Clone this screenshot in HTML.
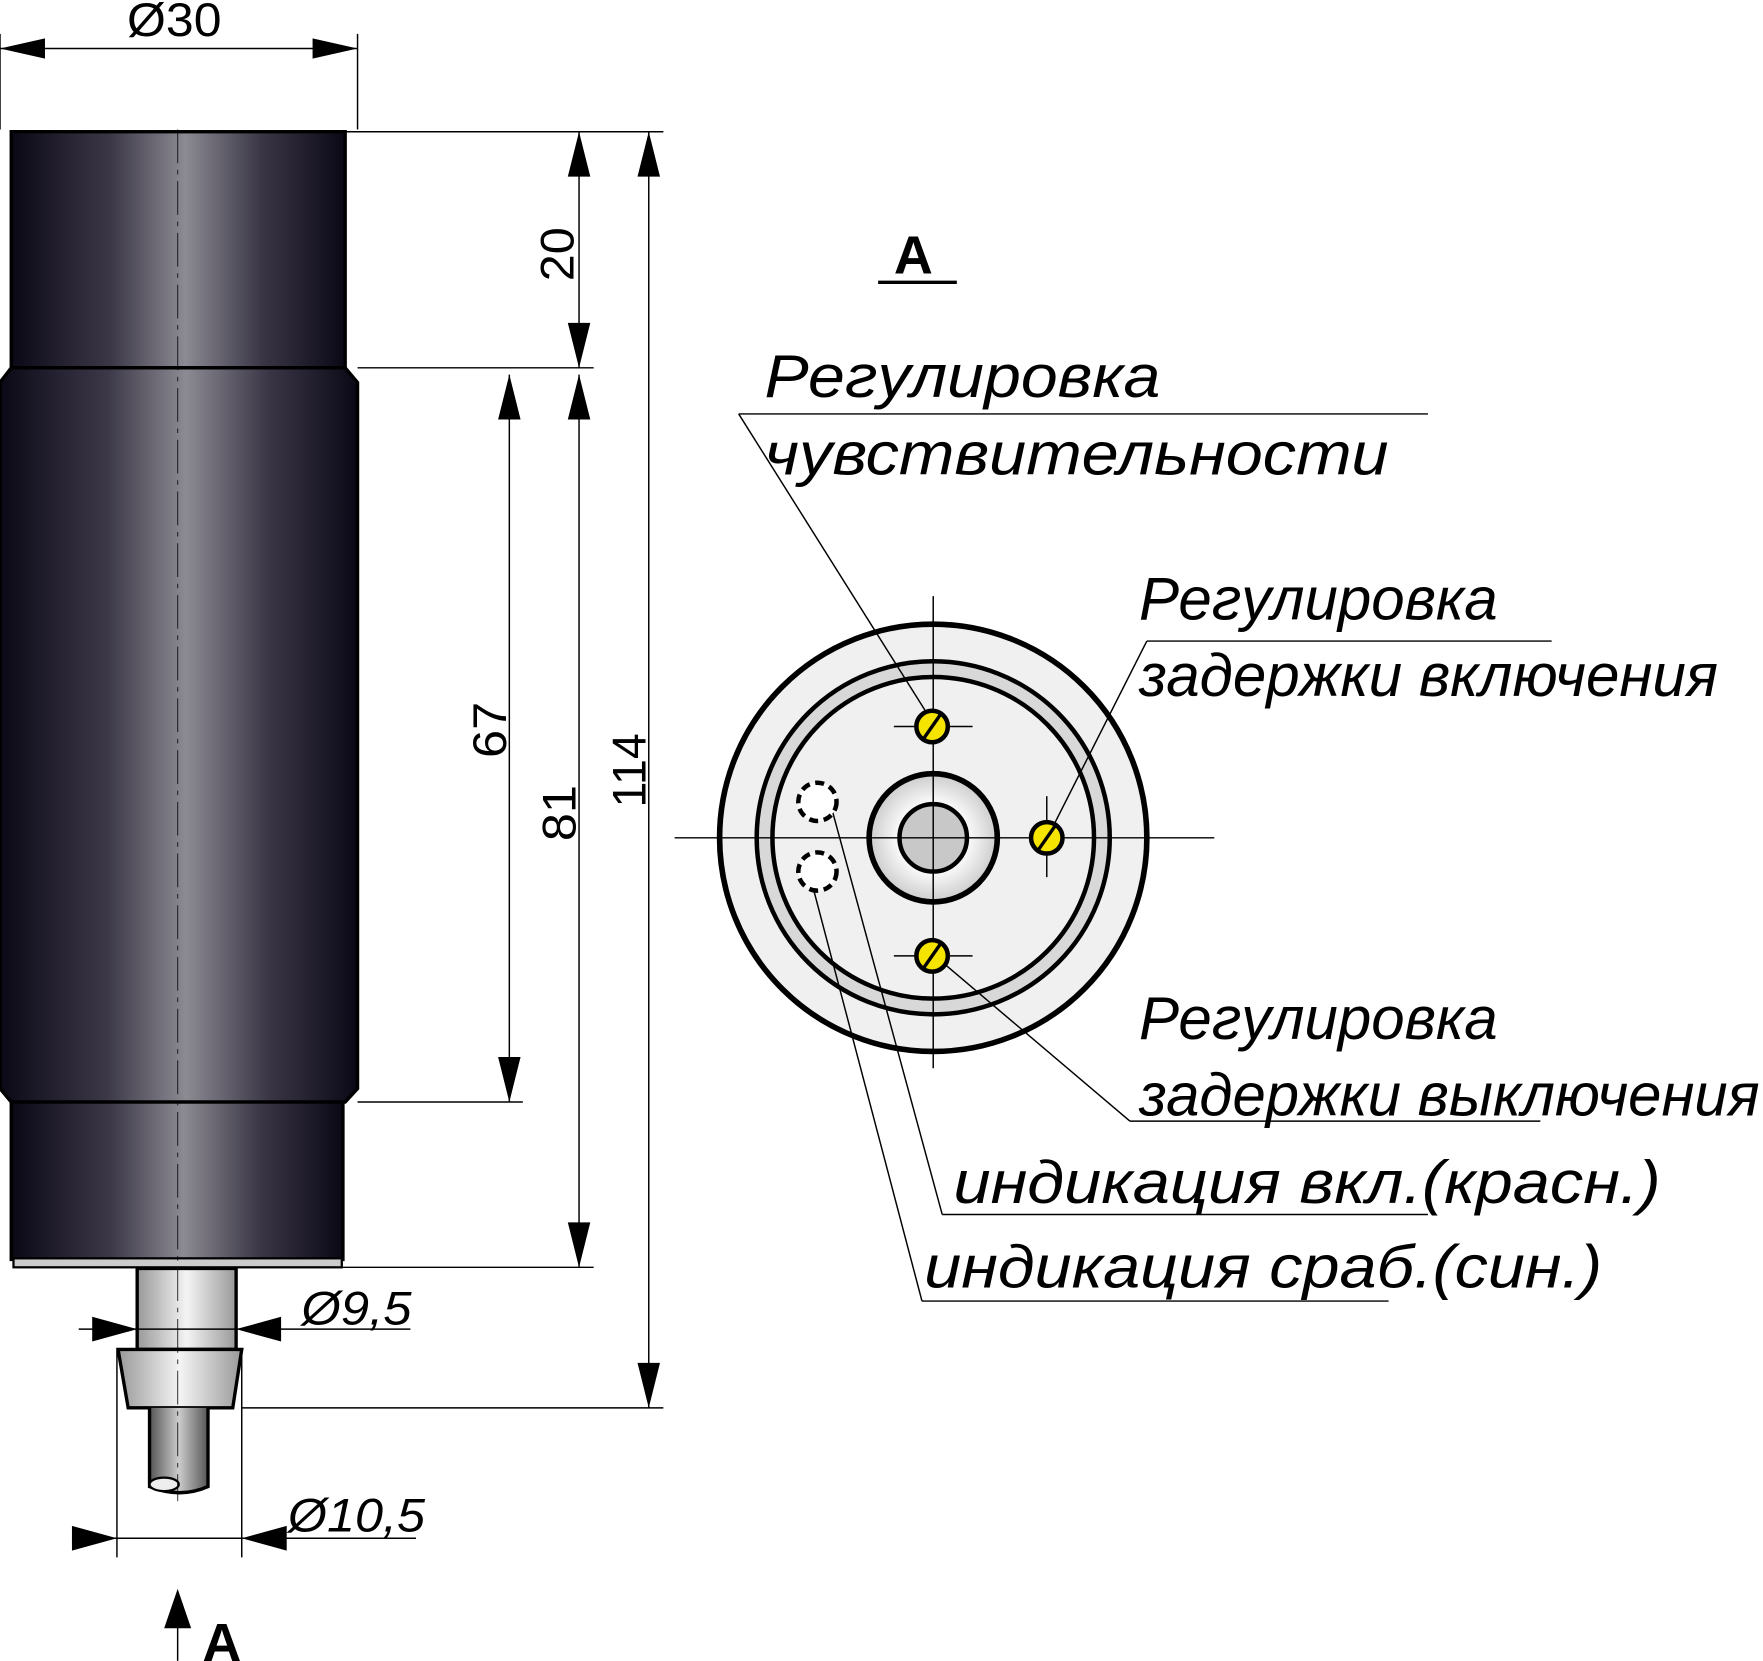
<!DOCTYPE html>
<html><head><meta charset="utf-8"><style>html,body{margin:0;padding:0;background:#fff}svg{display:block}</style></head>
<body>
<svg width="1763" height="1661" viewBox="0 0 1568 1477" xmlns="http://www.w3.org/2000/svg" font-family="Liberation Sans, sans-serif">
<defs>
<linearGradient id="body" x1="0" x2="1" y1="0" y2="0">
<stop offset="0" stop-color="#0b0816"/><stop offset="0.3" stop-color="#3c3848"/><stop offset="0.52" stop-color="#8c8a92"/><stop offset="0.75" stop-color="#3a3646"/><stop offset="1" stop-color="#0b0816"/></linearGradient>
<linearGradient id="met" x1="0" x2="1"><stop offset="0" stop-color="#999"/><stop offset="0.5" stop-color="#f4f4f4"/><stop offset="1" stop-color="#999"/></linearGradient>
<linearGradient id="cab" x1="0" x2="1"><stop offset="0" stop-color="#555"/><stop offset="0.5" stop-color="#ccc"/><stop offset="1" stop-color="#555"/></linearGradient>
<radialGradient id="boss"><stop offset="0.5" stop-color="#fff"/><stop offset="1" stop-color="#ccc"/></radialGradient>
</defs>
<g stroke="#000" stroke-width="1.3" fill="none">
<line x1="0" y1="30" x2="0" y2="115"/><line x1="318" y1="30" x2="318" y2="115"/>
<line x1="307" y1="117" x2="590" y2="117"/><line x1="318" y1="327" x2="528" y2="327"/>
<line x1="318" y1="980" x2="465" y2="980"/><line x1="305" y1="1127" x2="528" y2="1127"/>
<line x1="215" y1="1252" x2="590" y2="1252"/>
<line x1="104" y1="1200" x2="104" y2="1385"/><line x1="215" y1="1200" x2="215" y2="1385"/>
</g>
<rect x="10" y="117" width="297" height="210" fill="url(#body)" stroke="#000" stroke-width="3"/>
<path d="M10,327 L307,327 L318,340 L318,968 L307,980 L10,980 L0,968 L0,340 Z" fill="url(#body)" stroke="#000" stroke-width="3"/>
<rect x="10" y="980" width="295" height="140" fill="url(#body)" stroke="#000" stroke-width="3"/>
<rect x="12" y="1119" width="292" height="8" fill="#ccc" stroke="#000" stroke-width="2"/>
<rect x="122" y="1128" width="88" height="72" fill="url(#met)" stroke="#000" stroke-width="3"/>
<path d="M105,1200 L215,1200 L207,1252 L114,1252 Z" fill="url(#met)" stroke="#000" stroke-width="3"/>
<path d="M133,1252 L133,1322 Q160,1333 185,1322 L185,1252" fill="url(#cab)" stroke="#000" stroke-width="3"/>
<ellipse cx="146" cy="1320" rx="13" ry="6" fill="#eee" stroke="#000" stroke-width="2"/>
<line x1="158" y1="115" x2="158" y2="1335" stroke="#000" stroke-width="1" stroke-dasharray="30,6,4,6" opacity="0.7"/>
<path d="M0,43 L40,34 L40,52Z M318,43 L278,34 L278,52Z" fill="#000"/>
<line x1="0" y1="43" x2="318" y2="43" stroke="#000" stroke-width="1.3"/>
<g stroke="#000" stroke-width="1.3"><line x1="515" y1="117" x2="515" y2="327"/><line x1="577" y1="117" x2="577" y2="1252"/><line x1="453" y1="333" x2="453" y2="980"/><line x1="515" y1="333" x2="515" y2="1127"/>
<line x1="70" y1="1182" x2="365" y2="1182"/><line x1="64" y1="1368" x2="370" y2="1368"/><line x1="158" y1="1477" x2="158" y2="1440"/></g>
<g fill="#000">
<path d="M515,117l-10,40h20z M515,327l-10,-40h20z M577,117l-10,40h20z M577,1252l-10,-40h20z M453,333l-10,40h20z M453,980l-10,-40h20z M515,333l-10,40h20z M515,1127l-10,-40h20z"/>
<path d="M122,1182l-40,-11v22z M210,1182l40,-11v22z"/>
<path d="M104,1368l-40,-11v22z M215,1368l40,-11v22z"/>
<path d="M158,1413l-12,35h24z"/>
</g>
<g font-size="42" fill="#000">
<text x="113" y="32" textLength="84" lengthAdjust="spacingAndGlyphs">Ø30</text>
<text transform="translate(510,250) rotate(-90)" textLength="48" lengthAdjust="spacingAndGlyphs">20</text>
<text transform="translate(450,674) rotate(-90)" textLength="50" lengthAdjust="spacingAndGlyphs">67</text>
<text transform="translate(512,748) rotate(-90)" textLength="50" lengthAdjust="spacingAndGlyphs">81</text>
<text transform="translate(574,718) rotate(-90)" textLength="66" lengthAdjust="spacingAndGlyphs">114</text>
<text x="268" y="1178" font-style="italic" textLength="98" lengthAdjust="spacingAndGlyphs">Ø9,5</text>
<text x="256" y="1362" font-style="italic" textLength="122" lengthAdjust="spacingAndGlyphs">Ø10,5</text>
<text x="180" y="1477" font-weight="bold" font-size="48">A</text>
<text x="795" y="243" font-weight="bold" font-size="48">A</text>
</g>
<line x1="781" y1="251" x2="851" y2="251" stroke="#000" stroke-width="3"/>
<g stroke="#000">
<circle cx="830" cy="745" r="190" fill="#f0f0f0" stroke-width="5"/>
<circle cx="830" cy="745" r="157" fill="#d8d8d8" stroke-width="4"/>
<circle cx="830" cy="745" r="143" fill="#f0f0f0" stroke-width="4"/>
<circle cx="830" cy="745" r="57" fill="url(#boss)" stroke-width="5"/>
<circle cx="830" cy="745" r="30" fill="#c8c8c8" stroke-width="4"/>
<g stroke-width="1.3">
<line x1="600" y1="745" x2="1080" y2="745"/><line x1="830" y1="530" x2="830" y2="950"/>
<line x1="795" y1="646" x2="865" y2="646"/><line x1="795" y1="850" x2="865" y2="850"/><line x1="931" y1="708" x2="931" y2="780"/>
<line x1="657" y1="368" x2="1270" y2="368"/><line x1="657" y1="368" x2="828" y2="640"/>
<line x1="1020" y1="570" x2="1380" y2="570"/><line x1="1020" y1="570" x2="935" y2="738"/>
<line x1="1005" y1="997" x2="1370" y2="997"/><line x1="1005" y1="997" x2="835" y2="853"/>
<line x1="838" y1="1080" x2="1270" y2="1080"/><line x1="838" y1="1080" x2="740" y2="720"/>
<line x1="820" y1="1157" x2="1235" y2="1157"/><line x1="820" y1="1157" x2="722" y2="785"/>
</g>
<circle cx="829" cy="646" r="14" fill="#f5e400" stroke-width="4"/>
<circle cx="829" cy="850" r="14" fill="#f5e400" stroke-width="4"/>
<circle cx="931" cy="745" r="14" fill="#f5e400" stroke-width="4"/>
<g stroke-width="3"><line x1="822" y1="656" x2="836" y2="636"/><line x1="822" y1="860" x2="836" y2="840"/><line x1="924" y1="755" x2="938" y2="735"/></g>
<circle cx="727" cy="713" r="17" fill="#fff" stroke-width="4" stroke-dasharray="8,5"/>
<circle cx="727" cy="775" r="17" fill="#fff" stroke-width="4" stroke-dasharray="8,5"/>
</g>
<g font-size="54" font-style="italic" fill="#000" lengthAdjust="spacingAndGlyphs">
<text x="680" y="353" textLength="352" lengthAdjust="spacingAndGlyphs">Регулировка</text>
<text x="680" y="422" textLength="555" lengthAdjust="spacingAndGlyphs">чувствительности</text>
<text x="1013" y="551" textLength="319" lengthAdjust="spacingAndGlyphs">Регулировка</text>
<text x="1013" y="619" textLength="515" lengthAdjust="spacingAndGlyphs">задержки включения</text>
<text x="1013" y="924" textLength="319" lengthAdjust="spacingAndGlyphs">Регулировка</text>
<text x="1013" y="992" textLength="552" lengthAdjust="spacingAndGlyphs">задержки выключения</text>
<text x="848" y="1070" textLength="629" lengthAdjust="spacingAndGlyphs">индикация вкл.(красн.)</text>
<text x="822" y="1145" textLength="603" lengthAdjust="spacingAndGlyphs">индикация сраб.(син.)</text>
</g>
</svg>
</body></html>
